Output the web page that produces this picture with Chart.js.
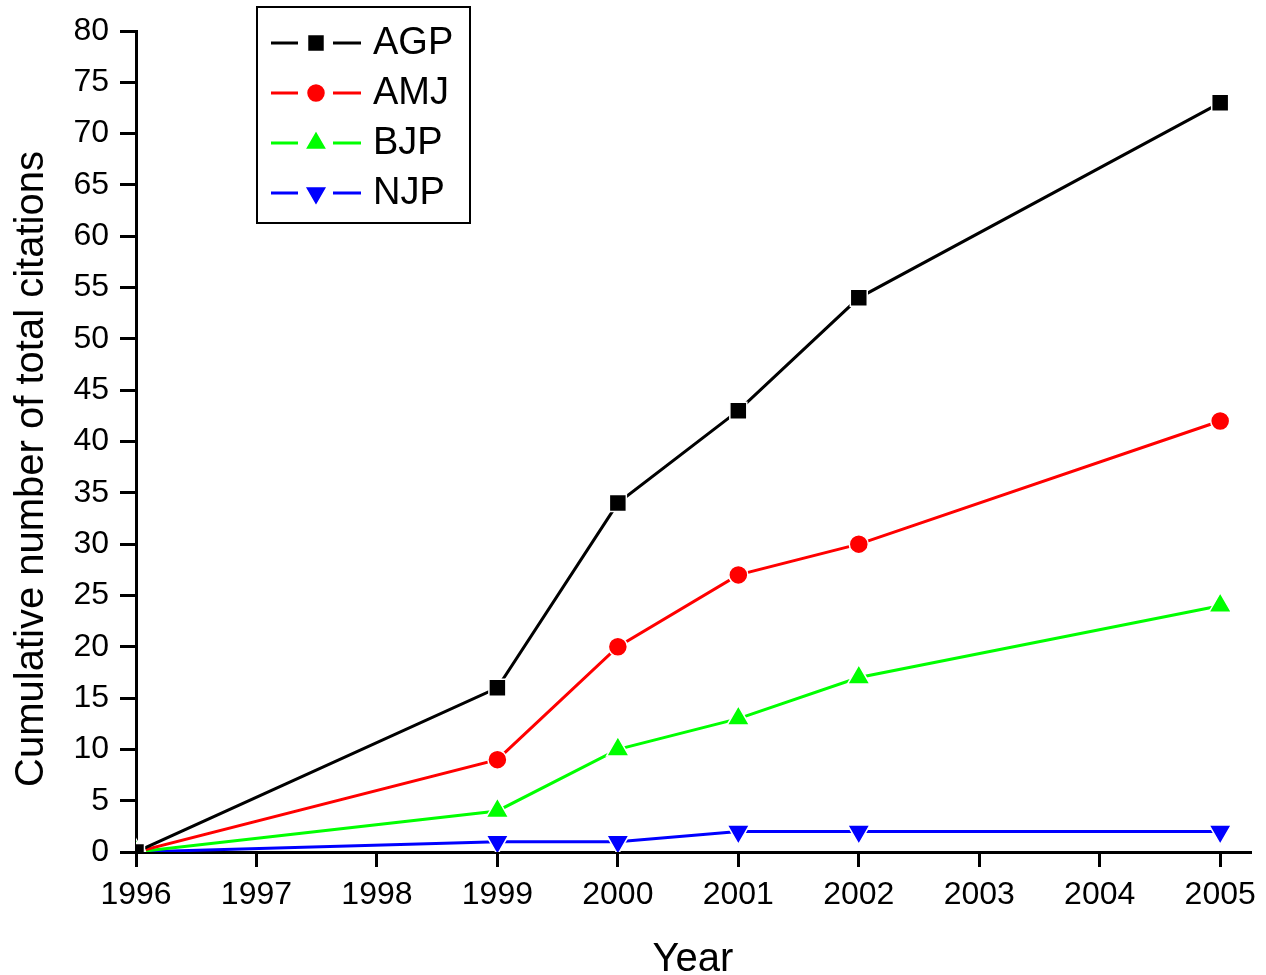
<!DOCTYPE html>
<html>
<head>
<meta charset="utf-8">
<title>Cumulative citations</title>
<script src="https://cdn.jsdelivr.net/npm/chart.js@4/dist/chart.umd.min.js"></script>
<style>
  html, body { margin: 0; padding: 0; background: #fff; }
  canvas { display: block; }
</style>
</head>
<body>
<canvas id="citationChart" width="1266" height="975"></canvas>
<script>
// Data
const years = [1996, 1999, 2000, 2001, 2002, 2005];
const agp = [0, 16, 34, 43, 54, 73];
const amj = [0, 9, 20, 27, 30, 42];
const bjp = [0, 4, 10, 13, 17, 24];
const njp = [0, 1, 1, 2, 2, 2];
const xTicks = [1996, 1997, 1998, 1999, 2000, 2001, 2002, 2003, 2004, 2005];
const yTicks = [0, 5, 10, 15, 20, 25, 30, 35, 40, 45, 50, 55, 60, 65, 70, 75, 80];

const FONT = "'Liberation Sans', Arial, sans-serif";

function toPoints(values) {
    return values.map((v, i) => ({ x: years[i], y: v }));
}

function makeSeries(label, values, color, style, radius, rotation) {
    return {
        label: label,
        data: toPoints(values),
        borderColor: color,
        backgroundColor: color,
        borderWidth: 3,
        pointStyle: style,
        pointRadius: radius,
        pointHoverRadius: radius,
        pointRotation: rotation || 0,
        pointBackgroundColor: color,
        pointBorderColor: '#fff',
        pointBorderWidth: 1.5,
        tension: 0
    };
}

// Boxed legend in the upper left, plus the axis titles
const extrasPlugin = {
    id: 'extras',
    afterDraw(chart) {
        const ctx = chart.ctx;
        ctx.save();

        // legend box
        ctx.strokeStyle = '#000';
        ctx.lineWidth = 2;
        ctx.strokeRect(257, 7, 213, 216);

        chart.data.datasets.forEach((ds, i) => {
            const y = 43 + i * 50;
            ctx.strokeStyle = ds.borderColor;
            ctx.lineWidth = 3;
            ctx.beginPath();
            ctx.moveTo(271, y);
            ctx.lineTo(298, y);
            ctx.moveTo(333, y);
            ctx.lineTo(361, y);
            ctx.stroke();

            ctx.fillStyle = ds.pointBackgroundColor;
            ctx.strokeStyle = '#fff';
            ctx.lineWidth = 1.5;
            Chart.helpers.drawPoint(ctx, {
                pointStyle: ds.pointStyle,
                radius: ds.pointRadius,
                rotation: ds.pointRotation,
                borderWidth: 1.5
            }, 316, y);

            ctx.fillStyle = '#000';
            ctx.font = '38px ' + FONT;
            ctx.textAlign = 'left';
            ctx.textBaseline = 'middle';
            ctx.fillText(ds.label, 373, y + 1);
        });

        // x axis title
        ctx.fillStyle = '#000';
        ctx.font = '40px ' + FONT;
        ctx.textAlign = 'center';
        ctx.textBaseline = 'alphabetic';
        ctx.fillText('Year', 693, 971);

        // y axis title
        ctx.translate(43, 469);
        ctx.rotate(-Math.PI / 2);
        ctx.fillText('Cumulative number of total citations', 0, 0);

        ctx.restore();
    }
};

document.addEventListener('DOMContentLoaded', () => {
    const ctx = document.getElementById('citationChart').getContext('2d');
    new Chart(ctx, {
        type: 'line',
        data: {
            datasets: [
                makeSeries('AGP', agp, '#000000', 'rect', 12),
                makeSeries('AMJ', amj, '#ff0000', 'circle', 9.5),
                makeSeries('BJP', bjp, '#00ff00', 'triangle', 13),
                makeSeries('NJP', njp, '#0000ff', 'triangle', 13, 180)
            ]
        },
        options: {
            responsive: false,
            animation: false,
            layout: {
                padding: { top: 31, right: 14, bottom: 0, left: 0 }
            },
            plugins: {
                legend: { display: false },
                tooltip: { enabled: false }
            },
            scales: {
                x: {
                    type: 'linear',
                    min: 1996,
                    max: 2005.26,
                    afterBuildTicks(scale) {
                        scale.ticks = xTicks.map(v => ({ value: v }));
                    },
                    afterFit(scale) {
                        scale.height = 123;
                    },
                    border: { display: true, color: '#000', width: 3 },
                    grid: {
                        drawOnChartArea: false,
                        drawTicks: true,
                        tickLength: 15,
                        tickWidth: 3,
                        tickColor: '#000'
                    },
                    ticks: {
                        color: '#000',
                        padding: 9,
                        maxRotation: 0,
                        autoSkip: false,
                        font: { family: FONT, size: 32 },
                        callback: v => String(v)
                    }
                },
                y: {
                    min: 0,
                    max: 80,
                    afterBuildTicks(scale) {
                        scale.ticks = yTicks.map(v => ({ value: v }));
                    },
                    afterFit(scale) {
                        scale.width = 136;
                    },
                    border: { display: true, color: '#000', width: 3 },
                    grid: {
                        drawOnChartArea: false,
                        drawTicks: true,
                        tickLength: 16,
                        tickWidth: 3,
                        tickColor: '#000'
                    },
                    ticks: {
                        color: '#000',
                        padding: 11,
                        autoSkip: false,
                        font: { family: FONT, size: 32 },
                        callback: v => String(v)
                    }
                }
            }
        },
        plugins: [extrasPlugin]
    });
});
</script>
</body>
</html>
